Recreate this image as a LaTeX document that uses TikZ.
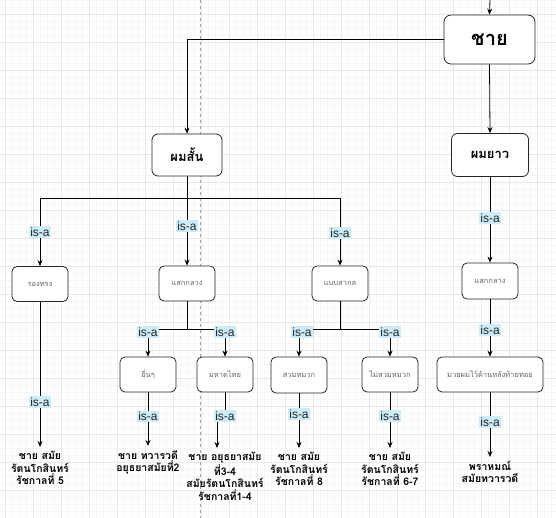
\documentclass[tikz,border=0pt]{standalone}
\usepackage{fontspec}
\setmainfont{Liberation Sans}
\newfontfamily\thai[Script=Thai]{Loma}
\usetikzlibrary{arrows.meta,calc}
\definecolor{isabg}{RGB}{204,236,247}
\definecolor{gridmin}{RGB}{246,246,246}
\definecolor{gridmaj}{RGB}{232,232,232}
\tikzset{
  box/.style={draw=black!85, line width=0.8pt, rounded corners=5pt, fill=white,
    minimum width=56pt, minimum height=35pt, inner sep=1pt,
    font=\thai\fontsize{7.5}{9}\selectfont, text=black!60},
  big/.style={box, rounded corners=6pt, font=\thai\bfseries\fontsize{13}{15}\selectfont, text=black},
  arr/.style={-{Stealth[length=6pt,width=5pt]}, line width=0.8pt},
  link/.style={line width=0.8pt},
  isa/.style={fill=isabg, inner sep=1.5pt, font=\fontsize{12}{12}\selectfont, text=black!85},
  leaf/.style={align=center, font=\thai\bfseries\fontsize{10.5}{12.5}\selectfont,
    inner xsep=0pt, inner ysep=4pt, anchor=north}
}
\begin{document}
\begin{tikzpicture}[x=1pt,y=-1pt]
\useasboundingbox (0,0) rectangle (556,518);
\fill[white] (0,0) rectangle (556,518);
% grid
\foreach \x in {5,12,...,556} \draw[gridmin, line width=0.5pt] (\x,0) -- (\x,518);
\foreach \y in {0,7,...,518} \draw[gridmin, line width=0.5pt] (0,\y) -- (556,\y);
\foreach \x in {5,33,...,556} \draw[gridmaj, line width=0.6pt] (\x,0) -- (\x,518);
\foreach \y in {14,42,...,518} \draw[gridmaj, line width=0.6pt] (0,\y) -- (556,\y);
\draw[black!35, dashed, line width=0.5pt] (200,0) -- (200,518);

% nodes
\node[big, minimum width=91pt, minimum height=49pt, rounded corners=7pt,
      font=\thai\bfseries\fontsize{20}{22}\selectfont] (chai) at (489.5,39.5) {ชาย};
\node[big, minimum width=70pt, minimum height=42pt] (short) at (187,155) {ผมสั้น};
\node[big, minimum width=77pt, minimum height=43pt] (long) at (490,155) {ผมยาว};

\node[box] (rong) at (40,284) {รองทรง};
\node[box] (sak1) at (187,283.5) {แสกกลาง};
\node[box] (bab) at (340,283.5) {แบบสากล};
\node[box, minimum height=36pt] (sak2) at (490,281) {แสกกลาง};

\node[box] (ue) at (148,374.5) {อื่นๆ};
\node[box] (mahat) at (225,374.5) {มหาดไทย};
\node[box, minimum height=36pt] (suam) at (299,375) {สวมหมวก};
\node[box] (maisuam) at (390,374.5) {ไม่สวมหมวก};
\node[box, minimum width=106pt] (muay) at (490,374.5) {มวยผมไว้ด้านหลังท้ายทอย};

\node[leaf] (t1) at (40,447) {ชาย สมัย\\รัตนโกสินทร์\\รัชกาลที่ 5};
\node[leaf] (t2) at (148,446) {ชาย ทวารวดี\\อยุธยาสมัยที่2};
\node[leaf] (t3) at (225,448) {ชาย อยุธยาสมัย\\ที่3-4\\สมัยรัตนโกสินทร์\\รัชกาลที่1-4};
\node[leaf] (t4) at (299,448) {ชาย สมัย\\รัตนโกสินทร์\\รัชกาลที่ 8};
\node[leaf] (t5) at (390,448) {ชาย สมัย\\รัตนโกสินทร์\\รัชกาลที่ 6-7};
\node[leaf] (t6) at (490,457) {พราหมณ์\\สมัยทวารวดี};

% helper coordinates
\coordinate (top) at (490,0);
\coordinate (busS) at (187,198);
\coordinate (busK) at (187,329);
\coordinate (busB) at (340,329);
\coordinate (t3in) at (217,448);

% connectors
\draw[arr] (top) -- (chai.north);
\draw[arr] (chai.west) -| (short.north);
\draw[arr] (chai.south) -- (long.north);

\draw[link] (short.south) -- (busS);
\draw[arr] (busS) -| node[isa, pos=0.75] {is-a} (rong.north);
\draw[arr] (busS) -| node[isa, pos=0.706] {is-a} (sak1.north);
\draw[arr] (busS) -| node[isa, pos=0.757] {is-a} (bab.north);
\draw[arr] (long.south) -- node[isa, pos=0.48] {is-a} (sak2.north);

\draw[link] (sak1.south) -- (busK);
\draw[arr] (busK) -| node[isa, pos=0.56] {is-a} (ue.north);
\draw[arr] (busK) -| node[isa, pos=0.56] {is-a} (mahat.north);
\draw[link] (bab.south) -- (busB);
\draw[arr] (busB) -| node[isa, pos=0.56, xshift=3pt] {is-a} (suam.north);
\draw[arr] (busB) -| node[isa, pos=0.56] {is-a} (maisuam.north);
\draw[arr] (sak2.south) -- node[isa, pos=0.53] {is-a} (muay.north);

\draw[arr] (rong.south) -- node[isa, pos=0.69] {is-a} (t1.north);
\draw[arr] (ue.south) -- node[isa, pos=0.45] {is-a} (t2.north);
\draw[arr] (mahat.south) -- node[isa, pos=1] {is-a} ++(0,24) -| (t3in);
\draw[arr] (suam.south) -- node[isa, pos=0.38] {is-a} (t4.north);
\draw[arr] (maisuam.south) -- node[isa, pos=0.43] {is-a} (t5.north);
\draw[arr] (muay.south) -- node[isa, pos=0.46] {is-a} (t6.north);
\end{tikzpicture}
\end{document}
